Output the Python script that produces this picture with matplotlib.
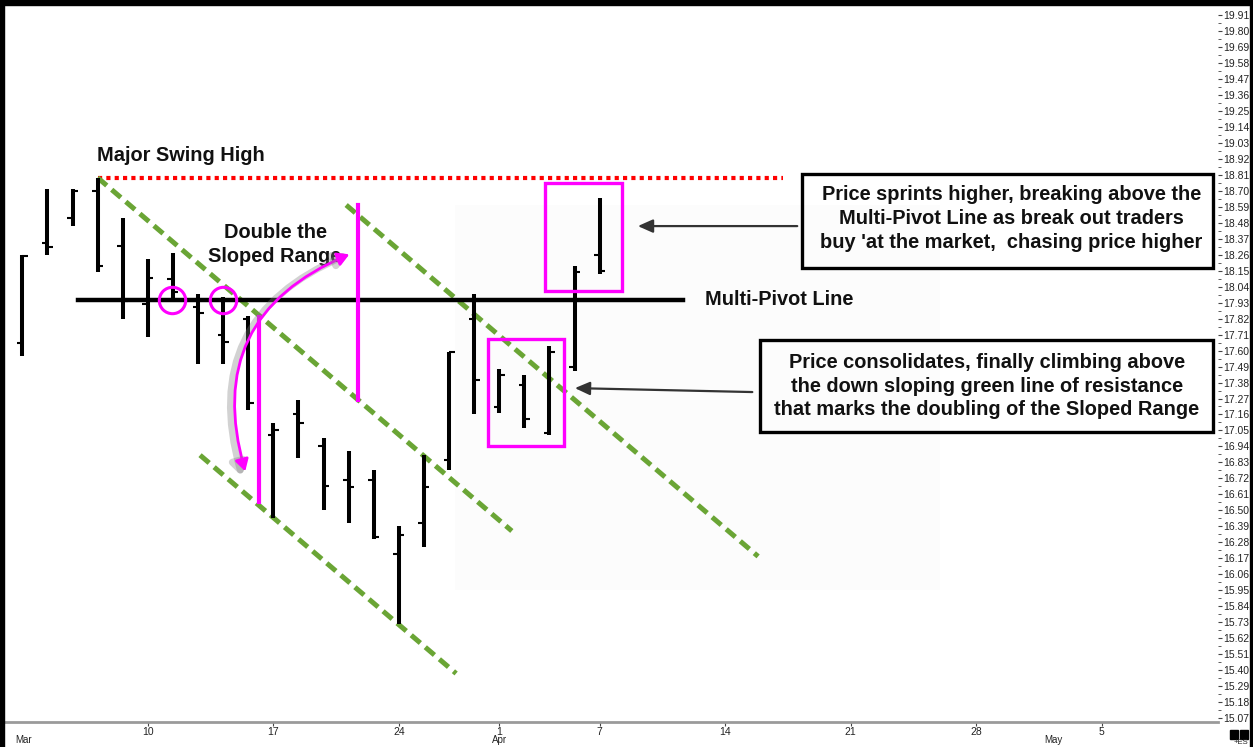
import numpy as np
import matplotlib.pyplot as plt
import matplotlib.patheffects as pe
from matplotlib.patches import Rectangle, FancyArrowPatch

# daily OHLC bars, x = trading-day index starting Mar 3
opens = [17.65, 18.34, 18.51, 18.70, 18.32, 17.92, 18.09, 17.90, 17.71, 17.82, 17.02, 17.16,
         16.94, 16.71, 16.71, 16.20, 16.41, 16.85, 17.82, 17.21, 17.36, 17.03, 17.49, 18.26]
highs = [18.26, 18.71, 18.71, 18.79, 18.51, 18.23, 18.27, 17.99, 17.97, 17.84, 17.10, 17.26,
         17.00, 16.91, 16.78, 16.39, 16.88, 17.59, 17.99, 17.47, 17.43, 17.63, 18.18, 18.65]
lows = [17.56, 18.26, 18.46, 18.14, 17.82, 17.69, 17.95, 17.51, 17.51, 17.19, 16.45, 16.86,
        16.50, 16.41, 16.30, 15.72, 16.25, 16.78, 17.16, 17.17, 17.07, 17.02, 17.46, 18.13]
closes = [18.25, 18.31, 18.70, 18.18, 17.94, 18.10, 18.00, 17.86, 17.66, 17.24, 17.05, 17.10,
          16.67, 16.66, 16.32, 16.33, 16.66, 17.59, 17.40, 17.43, 17.13, 17.59, 18.14, 18.15]

day_ticks = [5, 10, 15, 19, 23, 28, 33, 38, 43]
day_labels = ['10', '17', '24', '1', '7', '14', '21', '28', '5']
month_ticks = [0, 19, 41]
month_labels = ['Mar', 'Apr', 'May']

price_ticks = np.round(np.arange(15.07, 19.915, 0.11), 2)

swing_high = 18.79
pivot = 17.95

# green sloped channel lines: (x0, y0, x1, y1)
green_lines = [(3.0, 18.79, 19.5, 16.358),
               (7.08, 16.88, 17.28, 15.377),
               (12.9, 18.602, 29.31, 16.183)]
# magenta range markers: (x, bottom, top)
range_lines = [(9.43, 16.56, 17.83), (13.39, 17.26, 18.60)]
circles_x = [5.98, 8.01]
# magenta boxes: (x0, x1, y0, y1)
boxes = [(18.54, 21.59, 16.943, 17.679), (20.84, 23.89, 18.01, 18.751)]

magenta = '#ff00ff'
green = '#6aa535'
narrow = ['Liberation Sans Narrow', 'Liberation Sans']

fig = plt.figure(figsize=(12.53, 7.47), dpi=100)
ax = fig.add_axes([5 / 1253, 25 / 747, 1213 / 1253, 717 / 747])
ax.set_xlim(-0.69, 47.63)
ax.set_ylim(15.043, 19.979)

# faint backdrop
ax.add_patch(Rectangle((17.23, 15.951), 19.33, 2.651, color='#fcfcfc', lw=0, zorder=0))

# OHLC bars
x = np.arange(len(opens))
ax.vlines(x, lows, highs, color='black', lw=2.9, zorder=3)
ax.hlines(opens, x - 0.22, x, color='black', lw=1.5, zorder=3)
ax.hlines(closes, x, x + 0.22, color='black', lw=1.5, zorder=3)

# swing high and pivot line
ax.plot([3, 30.3], [swing_high, swing_high], color='red', lw=3, ls=(0, (1, 1)), zorder=2)
ax.plot([2.23, 26.3], [pivot, pivot], color='black', lw=3.2, zorder=4)

for x0, y0, x1, y1 in green_lines:
    ax.plot([x0, x1], [y0, y1], color=green, lw=3.6, ls=(0, (2.4, 1.3)), zorder=2)

for xr, yb, yt in range_lines:
    ax.plot([xr, xr], [yb, yt], color=magenta, lw=3, zorder=4)

ax.plot(circles_x, [pivot, pivot], 'o', ms=19, mfc='none', mec=magenta, mew=2.2, zorder=5)

for x0, x1, y0, y1 in boxes:
    ax.add_patch(Rectangle((x0, y0), x1 - x0, y1 - y0, fill=False, ec=magenta, lw=2.4, zorder=5))

# curved double arrow for the doubled range
arc = FancyArrowPatch((8.91, 16.75), (13.13, 18.27), arrowstyle='<|-|>,head_length=7,head_width=4',
                      connectionstyle='arc3,rad=-0.45', color=magenta, lw=2, zorder=6,
                      path_effects=[pe.SimpleLineShadow(offset=(-3, -1), shadow_color='0.5', alpha=0.35,
                                                        linewidth=5),
                                    pe.Normal()])
ax.add_patch(arc)

bold = dict(fontsize=14.4, fontweight='bold', family='Liberation Sans', color='#111111')
ax.text(2.98, 18.946, 'Major Swing High', ha='left', va='center', **bold)
ax.text(27.2, pivot, 'Multi-Pivot Line', ha='left', va='center', **bold)
ax.text(10.07, 18.33, 'Double the\nSloped Range', ha='center', va='center', linespacing=1.33, **bold)

# comment boxes with arrows
ax.add_patch(Rectangle((31.06, 18.168), 16.38, 0.647, fill=False, ec='black', lw=2.4, zorder=5, clip_on=False))
ax.text(39.39, 18.512, "Price sprints higher, breaking above the\nMulti-Pivot Line as break out traders\n"
        "buy 'at the market,  chasing price higher", ha='center', va='center', linespacing=1.33, **bold)
ax.annotate('', xy=(24.41, 18.457), xytext=(30.98, 18.457),
            arrowprops=dict(arrowstyle='-|>,head_length=0.9,head_width=0.4', color='#333333', lw=1.6))

ax.add_patch(Rectangle((29.39, 17.039), 18.05, 0.633, fill=False, ec='black', lw=2.4, zorder=5, clip_on=False))
ax.text(38.43, 17.356, "Price consolidates, finally climbing above\nthe down sloping green line of resistance\n"
        "that marks the doubling of the Sloped Range", ha='center', va='center', linespacing=1.33, **bold)
ax.annotate('', xy=(21.9, 17.342), xytext=(29.19, 17.314),
            arrowprops=dict(arrowstyle='-|>,head_length=0.9,head_width=0.4', color='#333333', lw=1.6))

# axes styling
for side in ['left', 'top', 'right']:
    ax.spines[side].set_visible(False)
ax.spines['bottom'].set_color('#9a9a9a')
ax.spines['bottom'].set_linewidth(2)

ax.yaxis.tick_right()
ax.set_yticks(price_ticks)
ax.set_yticklabels([f'{p:.2f}' for p in price_ticks], family=narrow, fontsize=7.5, color='#222222')
ax.set_yticks(price_ticks[:-1] + 0.055, minor=True)
ax.tick_params(axis='y', which='major', length=3, width=0.8, pad=1, color='#444444')
ax.tick_params(axis='y', which='minor', length=2, width=0.6, color='#444444')

ax.set_xticks(day_ticks)
ax.set_xticklabels(day_labels, family=narrow, fontsize=7.5, color='#222222')
ax.tick_params(axis='x', length=3, width=0.8, pad=0.5, color='#444444')
for mx, ml in zip(month_ticks, month_labels):
    ax.text(mx - 0.3, -0.0245, ml, transform=ax.get_xaxis_transform(), ha='left', va='center',
            family=narrow, fontsize=7, color='#222222', clip_on=False)

# outer frame and corner marks
fig.add_artist(Rectangle((0, 1 - 5 / 747), 1, 5 / 747, transform=fig.transFigure, color='black'))
fig.add_artist(Rectangle((0, 0), 4 / 1253, 1, transform=fig.transFigure, color='black'))
fig.add_artist(Rectangle((1 - 3 / 1253, 0), 3 / 1253, 1, transform=fig.transFigure, color='black'))
fig.add_artist(Rectangle((1230 / 1253, 8 / 747), 8 / 1253, 9 / 747, transform=fig.transFigure, color='black'))
fig.add_artist(Rectangle((1240 / 1253, 8 / 747), 8 / 1253, 9 / 747, transform=fig.transFigure, color='black'))
fig.text(1241 / 1253, 1.5 / 747, '+ES', ha='center', va='bottom', family=narrow, fontsize=5.5, color='#222222')

fig.savefig('out.png', dpi=100, facecolor='white')
